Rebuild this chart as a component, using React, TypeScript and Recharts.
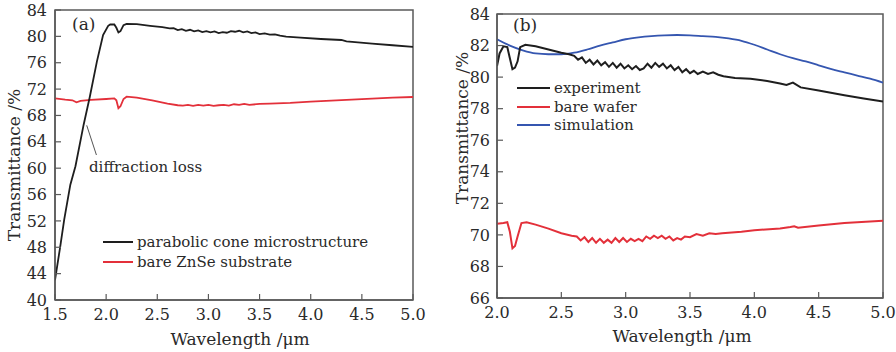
import React from "react";
import { LineChart, Line, XAxis, YAxis, ReferenceArea, ReferenceLine, Legend } from "recharts";

// ---------- Panel (a) ----------
const aExpX = [1.5, 1.55, 1.59, 1.65, 1.7, 1.78, 1.84, 1.91, 1.97, 2.02, 2.04, 2.08, 2.1, 2.12, 2.14, 2.17, 2.2, 2.3, 2.43, 2.55, 2.62, 2.66, 2.7, 2.74, 2.78, 2.82, 2.86, 2.9, 2.94, 2.98, 3.02, 3.06, 3.1, 3.14, 3.18, 3.22, 3.26, 3.3, 3.34, 3.38, 3.42, 3.46, 3.5, 3.55, 3.6, 3.65, 3.7, 3.76, 3.9, 4.1, 4.3, 4.35, 4.6, 4.8, 5.0];
const aExpY = [43.0, 48.0, 52.2, 57.5, 60.3, 66.6, 70.8, 76.2, 80.2, 81.6, 81.8, 81.8, 81.3, 80.6, 80.8, 81.7, 81.9, 81.85, 81.6, 81.4, 81.2, 81.25, 80.95, 81.1, 80.85, 81.0, 80.75, 80.9, 80.65, 80.8, 80.6, 80.75, 80.5, 80.65, 80.55, 80.8, 80.7, 80.85, 80.6, 80.75, 80.5, 80.6, 80.35, 80.45, 80.25, 80.3, 80.1, 79.95, 79.8, 79.6, 79.45, 79.25, 78.9, 78.65, 78.4];

const aBareX = [1.5, 1.6, 1.67, 1.71, 1.75, 1.85, 2.0, 2.08, 2.1, 2.12, 2.14, 2.17, 2.2, 2.3, 2.45, 2.6, 2.7, 2.75, 2.8, 2.85, 2.9, 2.95, 3.0, 3.05, 3.1, 3.15, 3.2, 3.25, 3.3, 3.35, 3.4, 3.5, 3.6, 3.8, 4.0, 4.2, 4.4, 4.6, 4.8, 5.0];
const aBareY = [70.6, 70.4, 70.3, 70.0, 70.2, 70.35, 70.5, 70.6, 70.3, 69.1, 69.4, 70.5, 70.85, 70.7, 70.3, 69.8, 69.55, 69.5, 69.6, 69.45, 69.6, 69.5, 69.6, 69.45, 69.55, 69.6, 69.5, 69.7, 69.6, 69.75, 69.6, 69.75, 69.8, 69.9, 70.1, 70.25, 70.4, 70.55, 70.7, 70.8];

const aXTicks = [1.5, 2.0, 2.5, 3.0, 3.5, 4.0, 4.5, 5.0];
const aYTicks = [40, 44, 48, 52, 56, 60, 64, 68, 72, 76, 80, 84];

// ---------- Panel (b) ----------
const bExpX = [2.0, 2.02, 2.05, 2.08, 2.1, 2.12, 2.14, 2.16, 2.18, 2.22, 2.3, 2.4, 2.5, 2.56, 2.6, 2.63, 2.66, 2.69, 2.72, 2.75, 2.78, 2.81, 2.84, 2.87, 2.9, 2.93, 2.96, 2.99, 3.02, 3.05, 3.08, 3.11, 3.14, 3.17, 3.2, 3.23, 3.26, 3.29, 3.32, 3.35, 3.38, 3.41, 3.44, 3.47, 3.5, 3.53, 3.56, 3.6, 3.64, 3.68, 3.72, 3.76, 3.85, 3.97, 4.1, 4.2, 4.25, 4.3, 4.36, 4.5, 4.7, 4.85, 5.0];
const bExpY = [80.7, 81.5, 81.95, 81.9, 81.2, 80.5, 80.6, 81.0, 81.9, 82.05, 81.95, 81.75, 81.55, 81.45, 81.35, 81.1, 81.25, 80.9, 81.1, 80.8, 81.05, 80.75, 80.95, 80.65, 80.9, 80.6, 80.85, 80.55, 80.75, 80.5, 80.7, 80.45, 80.55, 80.85, 80.6, 80.9, 80.65, 80.85, 80.55, 80.75, 80.45, 80.65, 80.3, 80.5, 80.25, 80.4, 80.2, 80.35, 80.2, 80.3, 80.15, 80.05, 79.95, 79.9, 79.75, 79.6, 79.5, 79.65, 79.35, 79.15, 78.85, 78.65, 78.45];

const bBareX = [2.0, 2.05, 2.08, 2.1, 2.12, 2.14, 2.16, 2.19, 2.23, 2.3, 2.4, 2.5, 2.58, 2.62, 2.65, 2.68, 2.71, 2.74, 2.77, 2.8, 2.83, 2.86, 2.89, 2.92, 2.95, 2.98, 3.01, 3.04, 3.07, 3.1, 3.13, 3.16, 3.19, 3.22, 3.25, 3.28, 3.31, 3.34, 3.37, 3.4, 3.43, 3.46, 3.5, 3.55, 3.6, 3.65, 3.7, 3.75, 3.9, 4.0, 4.2, 4.28, 4.31, 4.34, 4.5, 4.7, 5.0];
const bBareY = [70.7, 70.75, 70.8, 70.2, 69.15, 69.3, 69.9, 70.75, 70.8, 70.65, 70.4, 70.1, 69.95, 69.9, 69.65, 69.85, 69.55, 69.8, 69.5, 69.75, 69.5, 69.7, 69.5, 69.8, 69.55, 69.8, 69.55, 69.75, 69.6, 69.75, 69.6, 69.9, 69.75, 69.95, 69.8, 69.95, 69.75, 69.9, 69.65, 69.8, 69.7, 69.9, 69.85, 70.05, 69.95, 70.1, 70.05, 70.1, 70.2, 70.3, 70.4, 70.5, 70.55, 70.45, 70.6, 70.75, 70.9];

const bSimX = [2.0, 2.1, 2.2, 2.3, 2.4, 2.5, 2.6, 2.7, 2.8, 2.9, 3.0, 3.1, 3.2, 3.3, 3.4, 3.5, 3.6, 3.7, 3.8, 3.9, 4.0, 4.1, 4.2, 4.3, 4.4, 4.5, 4.6, 4.7, 4.8, 4.9, 5.0];
const bSimY = [82.4, 82.0, 81.7, 81.5, 81.45, 81.45, 81.55, 81.75, 82.0, 82.2, 82.4, 82.52, 82.6, 82.65, 82.67, 82.65, 82.6, 82.55, 82.45, 82.3, 82.05, 81.75, 81.45, 81.2, 81.0, 80.75, 80.5, 80.3, 80.1, 79.9, 79.65];

const bXTicks = [2.0, 2.5, 3.0, 3.5, 4.0, 4.5, 5.0];
const bYTicks = [66, 68, 70, 72, 74, 76, 78, 80, 82, 84];

const aSeriesNames = ["parabolic cone microstructure", "bare ZnSe substrate"];
const bSeriesNames = ["experiment", "bare wafer", "simulation"];

const zip = (xs: number[], ys: number[]) => xs.map((x, i) => ({ x, y: ys[i] }));

const BLACK = "#1e1e1e";
const RED = "#e3303a";
const BLUE = "#3556b0";
const FRAME = "#5a5a5a";
const FONT = "'DejaVu Serif', 'Liberation Serif', serif";
const TXT = "#2a2a2a";

const tickStyle = { fontFamily: FONT, fontSize: 16, fill: TXT };

function makeLegend(items: { name: string; color: string }[], rowGap: number, lineLen: number) {
  return () => (
    <div style={{ fontFamily: FONT, fontSize: 15, color: TXT }}>
      {items.map((it) => (
        <div key={it.name} style={{ display: "flex", alignItems: "center", height: rowGap, whiteSpace: "nowrap" }}>
          <span style={{ display: "inline-block", width: lineLen, height: 2, background: it.color, marginRight: 4 }} />
          <span>{it.name}</span>
        </div>
      ))}
    </div>
  );
}

export default function App() {
  const aExp = zip(aExpX, aExpY);
  const aBare = zip(aBareX, aBareY);
  const bExp = zip(bExpX, bExpY);
  const bBare = zip(bBareX, bBareY);
  const bSim = zip(bSimX, bSimY);

  return (
    <div style={{ position: "absolute", left: 0, top: 0, width: 896, height: 352, background: "#fff", overflow: "hidden" }}>
      {/* Panel (a) */}
      <div style={{ position: "absolute", left: 0, top: 0 }}>
        <LineChart width={450} height={352} margin={{ top: 10, right: 37, left: 0, bottom: 0 }}>
          <XAxis
            type="number"
            dataKey="x"
            domain={[1.5, 5]}
            ticks={aXTicks}
            interval={0}
            allowDataOverflow
            tickFormatter={(v: number) => v.toFixed(1)}
            height={52}
            tickSize={-6}
            tickMargin={15}
            tick={tickStyle}
            axisLine={{ stroke: FRAME, strokeWidth: 1.5 }}
            tickLine={{ stroke: FRAME, strokeWidth: 1.2 }}
          />
          <YAxis
            type="number"
            domain={[40, 84]}
            ticks={aYTicks}
            interval={0}
            allowDataOverflow
            width={55}
            tickSize={-6}
            tickMargin={14}
            tick={tickStyle}
            axisLine={{ stroke: FRAME, strokeWidth: 1.5 }}
            tickLine={{ stroke: FRAME, strokeWidth: 1.2 }}
          />
          <ReferenceArea x1={1.5} x2={5} y1={40} y2={84} fill="none" stroke={FRAME} strokeWidth={1.5} ifOverflow="visible" />
          <ReferenceLine segment={[{ x: 1.81, y: 66.5 }, { x: 1.905, y: 62.0 }]} stroke="#555" strokeWidth={1} ifOverflow="visible" />
          <Line data={aBare} dataKey="y" name={aSeriesNames[1]} type="linear" stroke={RED} strokeWidth={1.8} dot={false} isAnimationActive={false} />
          <Line data={aExp} dataKey="y" name={aSeriesNames[0]} type="linear" stroke={BLACK} strokeWidth={1.8} dot={false} isAnimationActive={false} />
          <Legend
            layout="vertical"
            align="center"
            verticalAlign="middle"
            content={makeLegend([
              { name: aSeriesNames[0], color: BLACK },
              { name: aSeriesNames[1], color: RED },
            ], 20, 30)}
            wrapperStyle={{ position: "absolute", left: 103, top: 232, width: "auto" }}
          />
        </LineChart>
        <div style={{ position: "absolute", left: 89, top: 158, fontFamily: FONT, fontSize: 15, color: TXT, whiteSpace: "nowrap" }}>
          diffraction loss
        </div>
        <div style={{ position: "absolute", left: 72, top: 14, fontFamily: FONT, fontSize: 17, color: TXT }}>(a)</div>
        <div style={{ position: "absolute", left: 14, top: 165, transform: "translate(-50%,-50%) rotate(-90deg)", fontFamily: FONT, fontSize: 17, color: TXT, whiteSpace: "nowrap" }}>
          Transmittance /%
        </div>
        <div style={{ position: "absolute", left: 240, top: 339, transform: "translate(-50%,-50%)", fontFamily: FONT, fontSize: 17, color: TXT, whiteSpace: "nowrap" }}>
          Wavelength /μm
        </div>
      </div>

      {/* Panel (b) */}
      <div style={{ position: "absolute", left: 450, top: 0 }}>
        <LineChart width={446} height={352} margin={{ top: 14, right: 13, left: 0, bottom: 0 }}>
          <XAxis
            type="number"
            dataKey="x"
            domain={[2, 5]}
            ticks={bXTicks}
            interval={0}
            allowDataOverflow
            tickFormatter={(v: number) => v.toFixed(1)}
            height={54}
            tickSize={-6}
            tickMargin={15}
            tick={tickStyle}
            axisLine={{ stroke: FRAME, strokeWidth: 1.5 }}
            tickLine={{ stroke: FRAME, strokeWidth: 1.2 }}
          />
          <YAxis
            type="number"
            domain={[66, 84]}
            ticks={bYTicks}
            interval={0}
            allowDataOverflow
            width={47}
            tickSize={-6}
            tickMargin={13}
            tick={tickStyle}
            axisLine={{ stroke: FRAME, strokeWidth: 1.5 }}
            tickLine={{ stroke: FRAME, strokeWidth: 1.2 }}
          />
          <ReferenceArea x1={2} x2={5} y1={66} y2={84} fill="none" stroke={FRAME} strokeWidth={1.5} ifOverflow="visible" />
          <Line data={bSim} dataKey="y" name={bSeriesNames[2]} type="monotone" stroke={BLUE} strokeWidth={1.8} dot={false} isAnimationActive={false} />
          <Line data={bBare} dataKey="y" name={bSeriesNames[1]} type="linear" stroke={RED} strokeWidth={2} dot={false} isAnimationActive={false} />
          <Line data={bExp} dataKey="y" name={bSeriesNames[0]} type="linear" stroke={BLACK} strokeWidth={2} dot={false} isAnimationActive={false} />
          <Legend
            layout="vertical"
            align="center"
            verticalAlign="middle"
            content={makeLegend([
              { name: bSeriesNames[0], color: BLACK },
              { name: bSeriesNames[1], color: RED },
              { name: bSeriesNames[2], color: BLUE },
            ], 18.4, 33)}
            wrapperStyle={{ position: "absolute", left: 67, top: 79, width: "auto" }}
          />
        </LineChart>
        <div style={{ position: "absolute", left: 63, top: 15, fontFamily: FONT, fontSize: 17, color: TXT }}>(b)</div>
        <div style={{ position: "absolute", left: 12, top: 128, transform: "translate(-50%,-50%) rotate(-90deg)", fontFamily: FONT, fontSize: 17, color: TXT, whiteSpace: "nowrap" }}>
          Transmittance /%
        </div>
        <div style={{ position: "absolute", left: 232, top: 336, transform: "translate(-50%,-50%)", fontFamily: FONT, fontSize: 17, color: TXT, whiteSpace: "nowrap" }}>
          Wavelength /μm
        </div>
      </div>
    </div>
  );
}
